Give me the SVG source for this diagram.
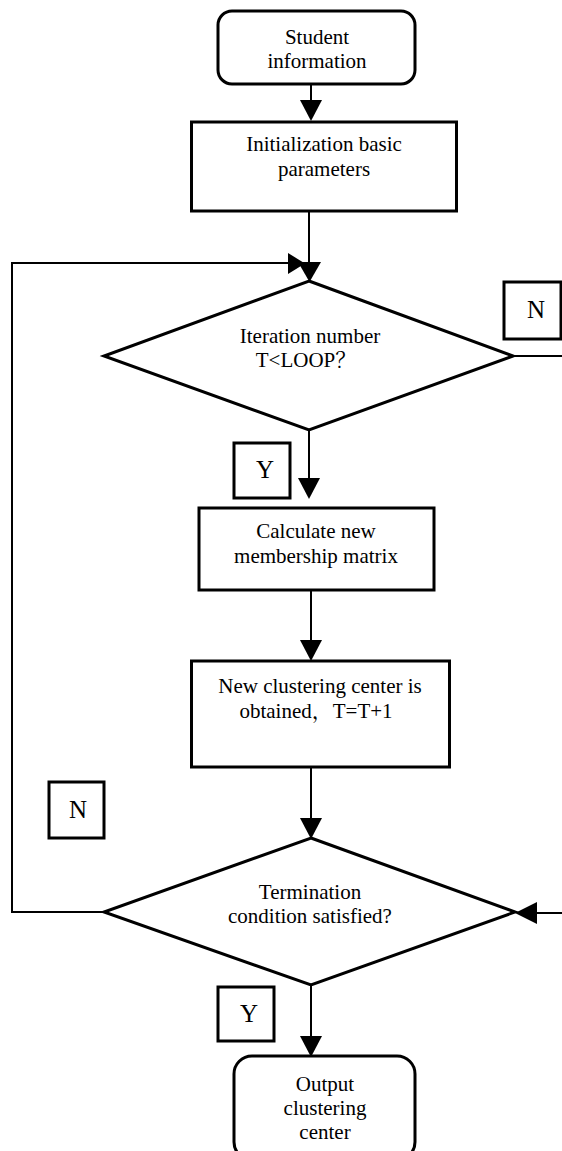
<svg xmlns="http://www.w3.org/2000/svg" width="562" height="1151" viewBox="0 0 562 1151">
<style>
.box{fill:#fff;stroke:#000;stroke-width:3}
.lbl{fill:#fff;stroke:#000;stroke-width:3}
.ln{fill:none;stroke:#000;stroke-width:2}
.ah{fill:#000;stroke:none}
text{font-family:"Liberation Serif","Times New Roman","Noto Serif CJK SC","Noto Sans CJK SC",serif;font-size:21px;fill:#000;text-anchor:middle}
.yn{font-size:25px}
</style>
<rect width="562" height="1151" fill="#fff"/>
<g id="connectors">
<line class="ln" x1="311" y1="84" x2="311" y2="102"/>
<polygon class="ah" points="300,100 322,100 311,121"/>
<line class="ln" x1="309" y1="211" x2="309" y2="264"/>
<polyline class="ln" points="104,912 12,912 12,263 292,263"/>
<polygon class="ah" points="288,253 305,263.5 288,274"/>
<polygon class="ah" points="298,262 321,262 309.5,282"/>
<polyline class="ln" points="513,356 562,356"/>
<line class="ln" x1="309" y1="430" x2="309" y2="480"/>
<polygon class="ah" points="298,478 320,478 309,499"/>
<line class="ln" x1="311" y1="590" x2="311" y2="642"/>
<polygon class="ah" points="300,640 322,640 311,661"/>
<line class="ln" x1="311" y1="767" x2="311" y2="820"/>
<polygon class="ah" points="300,818 322,818 311,839"/>
<line class="ln" x1="535" y1="913" x2="562" y2="913"/>
<polygon class="ah" points="537,902 537,924 515,913"/>
<line class="ln" x1="311" y1="985" x2="311" y2="1038"/>
<polygon class="ah" points="300,1036 322,1036 311,1057"/>
</g>
<g id="start">
<rect class="box" x="218" y="11" width="197" height="73" rx="14"/>
<text x="317" y="44">Student</text>
<text x="317" y="68">information</text>
</g>
<g id="init">
<rect class="box" x="191.5" y="122" width="265" height="89"/>
<text x="324" y="151">Initialization basic</text>
<text x="324" y="176">parameters</text>
</g>
<g id="decision1">
<polygon class="box" points="309,281 513,356 309,430 104,356"/>
<text x="310" y="343">Iteration number</text>
<text x="306" y="367">T&lt;LOOP？</text>
</g>
<g id="labelN1">
<rect class="lbl" x="504" y="282" width="57" height="57"/>
<text class="yn" x="536" y="318">N</text>
</g>
<g id="labelY1">
<rect class="lbl" x="234" y="443" width="56" height="55"/>
<text class="yn" x="265" y="478">Y</text>
</g>
<g id="calc">
<rect class="box" x="199" y="508" width="235" height="82"/>
<text x="316" y="538">Calculate new</text>
<text x="316" y="563">membership matrix</text>
</g>
<g id="newcenter">
<rect class="box" x="191.5" y="661" width="258" height="106"/>
<text x="320" y="693">New clustering center is</text>
<text x="316" y="718">obtained，T=T+1</text>
</g>
<g id="labelN2">
<rect class="lbl" x="49" y="782" width="55" height="56"/>
<text class="yn" x="78" y="818">N</text>
</g>
<g id="decision2">
<polygon class="box" points="311,838 515,912 311,985 104,912"/>
<text x="310" y="899">Termination</text>
<text x="310" y="923">condition satisfied?</text>
</g>
<g id="labelY2">
<rect class="lbl" x="218" y="987" width="56" height="54"/>
<text class="yn" x="249" y="1022">Y</text>
</g>
<g id="output">
<rect class="box" x="234" y="1056" width="181" height="104" rx="18"/>
<text x="325" y="1091">Output</text>
<text x="325" y="1115">clustering</text>
<text x="325" y="1139">center</text>
</g>
</svg>
